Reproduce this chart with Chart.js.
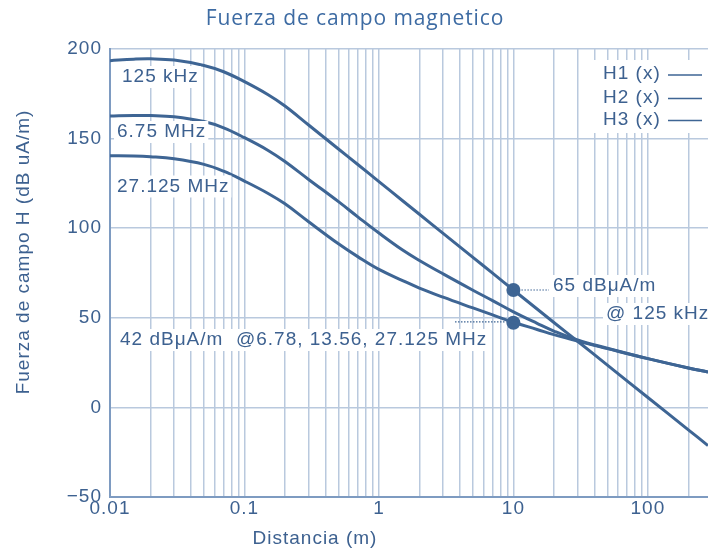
<!DOCTYPE html>
<html>
<head>
<meta charset="utf-8">
<script src="https://cdn.jsdelivr.net/npm/chart.js@4.4.0/dist/chart.umd.min.js"></script>
<style>
  html, body { margin: 0; padding: 0; background: #fff; }
  #wrap { width: 708px; height: 552px; }
</style>
</head>
<body>
<div id="wrap"><canvas id="chart"></canvas></div>
<script>
// ---------- Data ----------
const distances = [0.01, 0.015, 0.02, 0.03, 0.05, 0.07, 0.1, 0.15, 0.2, 0.3, 0.5, 0.7, 1, 1.5, 2, 3, 5, 7, 10, 15, 20, 30, 50, 100, 200, 280];
const h1Values = [193.5, 194.3, 194.5, 193.8, 190.8, 187.3, 181.8, 174.5, 168.2, 157.6, 144.2, 135.4, 126, 115.3, 107.8, 97.1, 83.7, 74.9, 65.5, 54.9, 47.4, 36.9, 23.6, 5.5, -12.5, -21.3];
const h2Values = [162.6, 162.9, 162.9, 162.2, 159.5, 156, 150.5, 143.4, 137.2, 127.2, 114.8, 106.2, 97.3, 87.8, 82, 74.5, 65.4, 59.6, 53.3, 46.9, 42.6, 37.6, 33, 27.2, 22, 19.8];
const h3Values = [140.4, 140.3, 139.9, 138.7, 135.6, 131.8, 126.3, 119.4, 113.6, 103.6, 91.3, 84, 77, 70.8, 66.6, 61.5, 55.5, 51.6, 47.5, 43.5, 40.6, 37, 32.8, 27.2, 22, 19.8];

const markDistances = [10, 10];
const markValues = [65.5, 47.2];

const seriesNames = ["H1 (x)", "H2 (x)", "H3 (x)"];
const xTickValues = [0.01, 0.1, 1, 10, 100];
const xTickLabels = ["0.01", "0.1", "1", "10", "100"];
const xMax = 280;

// ---------- Styles ----------
const lineColor = "#3e6594";
const textColor = "#3d6190";
const titleColor = "#3d6ba3";
const gridColor = "#b9c9de";
const axisColor = "#7e9bc1";
const FONT = '"Liberation Sans", Arial, sans-serif';

// minor grid ticks: 1..9 per decade
const xGridValues = [];
xTickValues.forEach(base => {
    for (let m = 1; m <= 9; m++) {
        const v = +(base * m).toPrecision(6);
        if (v <= xMax) xGridValues.push(v);
    }
});

const toPoints = vals => distances.map((d, i) => ({ x: d, y: vals[i] }));

function labelText(ctx, text, x, y, opts = {}) {
    ctx.save();
    ctx.font = (opts.size || 19) + "px " + FONT;
    ctx.letterSpacing = (opts.spacing ?? 1) + "px";
    ctx.textAlign = "left";
    ctx.textBaseline = "middle";
    const w = ctx.measureText(text).width;
    if (opts.box !== false) {
        ctx.fillStyle = "#fff";
        ctx.fillRect(x - 3, y - 11, w + 5, 22);
    }
    ctx.fillStyle = textColor;
    ctx.fillText(text, x, y);
    ctx.restore();
    return w;
}

// ---------- Annotations ----------
const annotations = {
    id: "annotations",
    beforeDraw(chart) {
        chart.ctx.letterSpacing = "1px";
    },
    afterDatasetsDraw(chart) {
        const { ctx, scales: { x, y } } = chart;
        const px = v => x.getPixelForValue(v);
        const py = v => y.getPixelForValue(v);

        // curve labels
        labelText(ctx, "125 kHz", 122, 77);
        labelText(ctx, "6.75 MHz", 117, 132);
        labelText(ctx, "27.125 MHz", 117, 186.5);
        labelText(ctx, "42 dB\u03bcA/m  @6.78, 13.56, 27.125 MHz", 120, 340);
        labelText(ctx, "65 dB\u03bcA/m", 553, 286);
        labelText(ctx, "@ 125 kHz", 606, 314);

        // dotted leaders
        ctx.save();
        ctx.strokeStyle = lineColor;
        ctx.lineWidth = 1.2;
        ctx.setLineDash([1.5, 1.5]);
        ctx.beginPath();
        ctx.moveTo(px(10) + 8, py(markValues[0]));
        ctx.lineTo(549, py(markValues[0]));
        ctx.moveTo(455, py(markValues[1]) - 1);
        ctx.lineTo(px(10) - 7, py(markValues[1]) - 1);
        ctx.stroke();
        ctx.restore();

        // legend
        ctx.save();
        ctx.fillStyle = "#fff";
        ctx.fillRect(590, 60, 118, 73);
        ctx.restore();
        const legendY = [74, 97.5, 119.5];
        seriesNames.forEach((name, i) => {
            labelText(ctx, name, 603, legendY[i], { box: false });
            ctx.save();
            ctx.strokeStyle = lineColor;
            ctx.lineWidth = 1.5;
            ctx.beginPath();
            ctx.moveTo(668, legendY[i] + 1);
            ctx.lineTo(702, legendY[i] + 1);
            ctx.stroke();
            ctx.restore();
        });
    },
    afterDraw(chart) {
        const ctx = chart.ctx;
        ctx.save();
        ctx.fillStyle = titleColor;
        ctx.textAlign = "center";
        ctx.textBaseline = "middle";
        ctx.font = '21px "Open Sans", sans-serif';
        ctx.letterSpacing = "0.9px";
        ctx.fillText("Fuerza de campo magnetico", 355, 19);

        ctx.fillStyle = textColor;
        ctx.font = "19px " + FONT;
        ctx.letterSpacing = "1px";
        ctx.fillText("Distancia (m)", 315, 539);

        ctx.translate(23.5, 252);
        ctx.rotate(-Math.PI / 2);
        ctx.fillText("Fuerza de campo H (dB uA/m)", 0, 0);
        ctx.restore();
    }
};

// ---------- Chart ----------
const lineSet = (label, vals) => ({
    label,
    data: toPoints(vals),
    borderColor: lineColor,
    borderWidth: 3,
    pointRadius: 0,
    fill: false,
    tension: 0.4
});

new Chart(document.getElementById("chart"), {
    type: "line",
    data: {
        datasets: [
            lineSet(seriesNames[0], h1Values),
            lineSet(seriesNames[1], h2Values),
            lineSet(seriesNames[2], h3Values),
            {
                type: "scatter",
                label: "marks",
                data: markDistances.map((d, i) => ({ x: d, y: markValues[i] })),
                pointRadius: 7,
                pointBackgroundColor: lineColor,
                pointBorderWidth: 0
            }
        ]
    },
    options: {
        responsive: true,
        maintainAspectRatio: false,
        animation: false,
        events: [],
        layout: { autoPadding: false, padding: { top: 49, right: 0, bottom: 0, left: 0 } },
        plugins: {
            legend: { display: false },
            tooltip: { enabled: false },
            title: { display: false }
        },
        scales: {
            x: {
                type: "logarithmic",
                min: 0.01,
                max: xMax,
                afterBuildTicks: s => { s.ticks = xGridValues.map(v => ({ value: v })); },
                afterFit: s => { s.height = 55; },
                grid: { color: gridColor, lineWidth: 1.5, drawTicks: false },
                border: { color: axisColor, width: 2 },
                ticks: {
                    autoSkip: false,
                    maxRotation: 0,
                    padding: 0,
                    color: textColor,
                    font: { family: FONT, size: 19 },
                    callback: v => {
                        const i = xTickValues.findIndex(t => Math.abs(t - v) < t * 1e-6);
                        return i >= 0 ? xTickLabels[i] : "";
                    }
                }
            },
            y: {
                min: -50,
                max: 200,
                afterFit: s => { s.width = 110; },
                grid: { color: gridColor, lineWidth: 1.5, drawTicks: false },
                border: { color: axisColor, width: 2 },
                ticks: {
                    stepSize: 50,
                    padding: 8,
                    color: textColor,
                    font: { family: FONT, size: 19 },
                    callback: v => String(v).replace("-", "\u2212")
                }
            }
        }
    },
    plugins: [annotations]
});
</script>
</body>
</html>
